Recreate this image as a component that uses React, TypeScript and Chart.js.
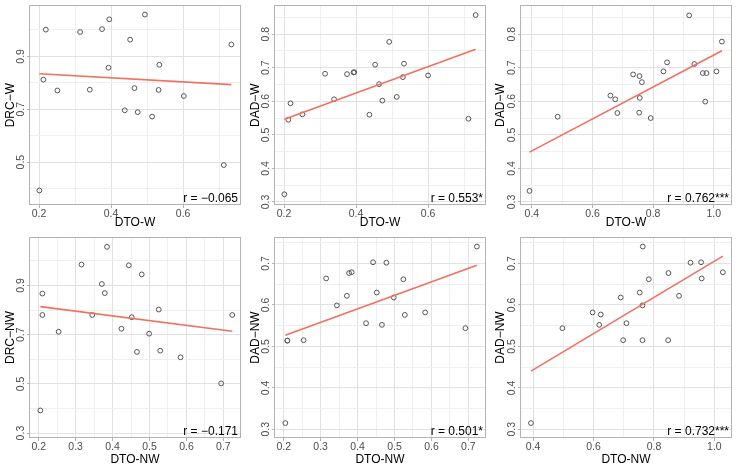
import React, { useEffect, useRef } from 'react';
import { Chart, registerables } from 'chart.js';

Chart.register(...registerables);

const FONT = "'Liberation Sans Narrow', 'Liberation Sans', Arial, sans-serif";

// ---- Data ----
// Panel 1: DTO-W vs DRC-W
const p1DTO = [0.201, 0.219, 0.212, 0.251, 0.314, 0.341, 0.375, 0.395, 0.393, 0.438, 0.453, 0.494, 0.465, 0.474, 0.514, 0.534, 0.532, 0.602, 0.713, 0.734];
const p1DRC = [0.393, 1.001, 0.812, 0.771, 0.992, 0.774, 1.003, 1.040, 0.857, 0.696, 0.963, 1.058, 0.780, 0.689, 0.672, 0.868, 0.773, 0.750, 0.489, 0.945];
// Panel 2: DTO-W vs DAD-W
const p2DTO = [0.201, 0.218, 0.212, 0.251, 0.314, 0.339, 0.375, 0.395, 0.393, 0.437, 0.453, 0.492, 0.464, 0.473, 0.513, 0.533, 0.530, 0.600, 0.712, 0.732];
const p2DAD = [0.323, 0.594, 0.545, 0.561, 0.682, 0.606, 0.681, 0.687, 0.686, 0.560, 0.709, 0.777, 0.651, 0.602, 0.613, 0.712, 0.672, 0.677, 0.548, 0.857];
// Panel 3: DTO-W (second measure) vs DAD-W
const p3DTO = [0.392, 0.485, 0.659, 0.675, 0.682, 0.734, 0.755, 0.763, 0.756, 0.754, 0.792, 0.834, 0.846, 0.919, 0.936, 0.964, 0.976, 0.972, 1.009, 1.027];
const p3DAD = [0.333, 0.554, 0.617, 0.606, 0.565, 0.680, 0.675, 0.657, 0.610, 0.566, 0.550, 0.689, 0.716, 0.856, 0.711, 0.684, 0.684, 0.599, 0.689, 0.778];
// Panel 4: DTO-NW vs DRC-NW
const p4DTO = [0.2045, 0.210, 0.210, 0.254, 0.316, 0.345, 0.371, 0.379, 0.385, 0.424, 0.444, 0.479, 0.452, 0.466, 0.499, 0.525, 0.529, 0.584, 0.694, 0.724];
const p4DRC = [0.392, 0.867, 0.780, 0.712, 0.985, 0.780, 0.906, 0.869, 1.057, 0.724, 0.982, 0.945, 0.771, 0.630, 0.704, 0.802, 0.635, 0.608, 0.502, 0.780];
// Panel 5: DTO-NW vs DAD-NW
const p5DTO = [0.2045, 0.210, 0.210, 0.254, 0.315, 0.344, 0.371, 0.377, 0.384, 0.442, 0.478, 0.423, 0.452, 0.466, 0.498, 0.524, 0.528, 0.583, 0.692, 0.723];
const p5DAD = [0.315, 0.514, 0.514, 0.515, 0.664, 0.599, 0.622, 0.677, 0.679, 0.703, 0.702, 0.556, 0.630, 0.552, 0.618, 0.662, 0.576, 0.582, 0.544, 0.741];
// Panel 6: DTO-NW (second measure) vs DAD-NW
const p6DTO = [0.393, 0.497, 0.597, 0.624, 0.619, 0.690, 0.698, 0.709, 0.753, 0.762, 0.762, 0.763, 0.783, 0.848, 0.847, 0.883, 0.921, 0.956, 0.958, 1.028];
const p6DAD = [0.315, 0.544, 0.582, 0.577, 0.552, 0.618, 0.515, 0.556, 0.630, 0.599, 0.515, 0.741, 0.662, 0.677, 0.515, 0.622, 0.702, 0.703, 0.664, 0.679];

const rLabels = ['r = \u22120.065', 'r = 0.553*', 'r = 0.762***', 'r = \u22120.171', 'r = 0.501*', 'r = 0.732***'];
const xTitles = ['DTO-W', 'DTO-W', 'DTO-W', 'DTO-NW', 'DTO-NW', 'DTO-NW'];
const yTitles = ['DRC\u2212W', 'DAD\u2212W', 'DAD\u2212W', 'DRC\u2212NW', 'DAD\u2212NW', 'DAD\u2212NW'];

type PanelDef = {
  xs: number[]; ys: number[];
  xRange: [number, number]; yRange: [number, number];
  xMajor: number; yMajor: number; yOffset: number;
  col: number; row: number; idx: number;
};

const panels: PanelDef[] = [
  { xs: p1DTO, ys: p1DRC, xRange: [0.175, 0.758], yRange: [0.338, 1.093], xMajor: 0.2, yMajor: 0.2, yOffset: 0.1, col: 0, row: 0, idx: 0 },
  { xs: p2DTO, ys: p2DAD, xRange: [0.175, 0.758], yRange: [0.291, 0.886], xMajor: 0.2, yMajor: 0.1, yOffset: 0, col: 1, row: 0, idx: 1 },
  { xs: p3DTO, ys: p3DAD, xRange: [0.364, 1.057], yRange: [0.291, 0.886], xMajor: 0.2, yMajor: 0.1, yOffset: 0, col: 2, row: 0, idx: 2 },
  { xs: p4DTO, ys: p4DRC, xRange: [0.1765, 0.745], yRange: [0.280, 1.097], xMajor: 0.1, yMajor: 0.2, yOffset: 0.1, col: 0, row: 1, idx: 3 },
  { xs: p5DTO, ys: p5DAD, xRange: [0.1765, 0.745], yRange: [0.279, 0.764], xMajor: 0.1, yMajor: 0.1, yOffset: 0, col: 1, row: 1, idx: 4 },
  { xs: p6DTO, ys: p6DAD, xRange: [0.360, 1.055], yRange: [0.279, 0.764], xMajor: 0.2, yMajor: 0.1, yOffset: 0, col: 2, row: 1, idx: 5 },
];

const colLeft = [0, 245, 490];
const colWidth = [245, 245, 248];
const rowTop = [0, 230];
const rowHeight = [230, 237];

function linFit(xs: number[], ys: number[]) {
  const n = xs.length;
  const mx = xs.reduce((a, b) => a + b, 0) / n;
  const my = ys.reduce((a, b) => a + b, 0) / n;
  let sxy = 0, sxx = 0;
  for (let i = 0; i < n; i++) {
    sxy += (xs[i] - mx) * (ys[i] - my);
    sxx += (xs[i] - mx) * (xs[i] - mx);
  }
  const b = sxy / sxx;
  return { a: my - b * mx, b };
}

const isMajor = (v: number, m: number, off: number) => Math.abs((v - off) / m - Math.round((v - off) / m)) < 1e-6;

function makeAxis(range: [number, number], major: number, off: number, title: string, isY: boolean, size: number) {
  const tickBase: any = {
    stepSize: isY && off ? major / 2 : major / 2,
    includeBounds: false,
    autoSkip: false,
    maxTicksLimit: 100,
    callback: (v: any) => (isMajor(Number(v), major, off) ? Number(v).toFixed(1) : ''),
    color: '#4d4d4d',
    font: { family: FONT, size: 10.5 },
  };
  if (isY) {
    tickBase.minRotation = 90;
    tickBase.maxRotation = 90;
    tickBase.crossAlign = 'center';
    tickBase.padding = -1;
  } else {
    tickBase.maxRotation = 0;
    tickBase.minRotation = 0;
    tickBase.padding = 0;
  }
  return {
    type: 'linear',
    min: range[0],
    max: range[1],
    afterFit: (s: any) => {
      if (isY) s.width = size;
      else s.height = size;
    },
    border: { display: false },
    grid: {
      color: (c: any) => (c.tick && isMajor(c.tick.value, major, off) ? '#e1e1e1' : '#efefef'),
      lineWidth: 1,
      tickLength: 3,
      tickColor: (c: any) => (c.tick && isMajor(c.tick.value, major, off) ? '#b3b3b3' : 'rgba(0,0,0,0)'),
    },
    ticks: tickBase,
    title: {
      display: true,
      text: title,
      color: '#000',
      font: { family: FONT, size: 12 },
      padding: isY ? { top: 3, bottom: 0 } : { top: 0, bottom: 0 },
    },
  };
}

function Panel({ p }: { p: PanelDef }) {
  const ref = useRef<HTMLCanvasElement>(null);
  const w = colWidth[p.col];
  const h = rowHeight[p.row];
  useEffect(() => {
    const canvas = ref.current;
    if (!canvas) return;
    const { a, b } = linFit(p.xs, p.ys);
    const x0 = Math.min(...p.xs);
    const x1 = Math.max(...p.xs);
    const label = rLabels[p.idx];
    const boxPlugin = {
      id: 'boxAndLabel',
      afterDraw(chart: any) {
        const { ctx, chartArea: ca } = chart;
        ctx.save();
        ctx.strokeStyle = '#b3b3b3';
        ctx.lineWidth = 1;
        ctx.strokeRect(Math.round(ca.left) - 0.5, Math.round(ca.top) + 0.5, Math.round(ca.right - ca.left) + 1, Math.round(ca.bottom - ca.top) - 1);
        ctx.fillStyle = '#000';
        ctx.font = `12px ${FONT}`;
        ctx.textAlign = 'right';
        ctx.textBaseline = 'alphabetic';
        ctx.fillText(label, ca.right - 2, ca.bottom - 3);
        ctx.restore();
      },
    };
    const yAxisWidth = p.col === 2 ? 31 : 30;
    const padRight = w - 241;
    const padTop = p.row === 0 ? 5 : 7;
    const xAxisHeight = p.row === 0 ? 25 : 29;
    const chart = new Chart(canvas, {
      type: 'scatter',
      data: {
        datasets: [
          {
            type: 'scatter',
            data: [
              { x: x0, y: a + b * x0 },
              { x: x1, y: a + b * x1 },
            ],
            showLine: true,
            borderColor: '#f2705f',
            borderWidth: 1.6,
            pointRadius: 0,
            order: 0,
          } as any,
          {
            type: 'scatter',
            data: p.xs.map((x, i) => ({ x, y: p.ys[i] })),
            pointRadius: 2.4,
            pointBorderWidth: 1,
            borderColor: '#555555',
            backgroundColor: 'rgba(0,0,0,0)',
            order: 1,
          } as any,
        ],
      },
      options: {
        animation: false,
        responsive: false,
        devicePixelRatio: 1,
        layout: { padding: { left: 0, right: padRight, top: padTop, bottom: 0 } },
        plugins: { legend: { display: false }, tooltip: { enabled: false } },
        scales: {
          x: makeAxis(p.xRange, p.xMajor, 0, xTitles[p.idx], false, xAxisHeight) as any,
          y: makeAxis(p.yRange, p.yMajor, p.yOffset, yTitles[p.idx], true, yAxisWidth) as any,
        },
      },
      plugins: [boxPlugin],
    });
    return () => chart.destroy();
  }, []);
  return (
    <canvas
      ref={ref}
      width={w}
      height={h}
      style={{ position: 'absolute', left: colLeft[p.col], top: rowTop[p.row], width: w, height: h }}
    />
  );
}

export default function App() {
  return (
    <div style={{ position: 'fixed', left: 0, top: 0, width: 738, height: 467, background: '#fff', overflow: 'hidden' }}>
      {panels.map((p) => (
        <Panel key={p.idx} p={p} />
      ))}
    </div>
  );
}
